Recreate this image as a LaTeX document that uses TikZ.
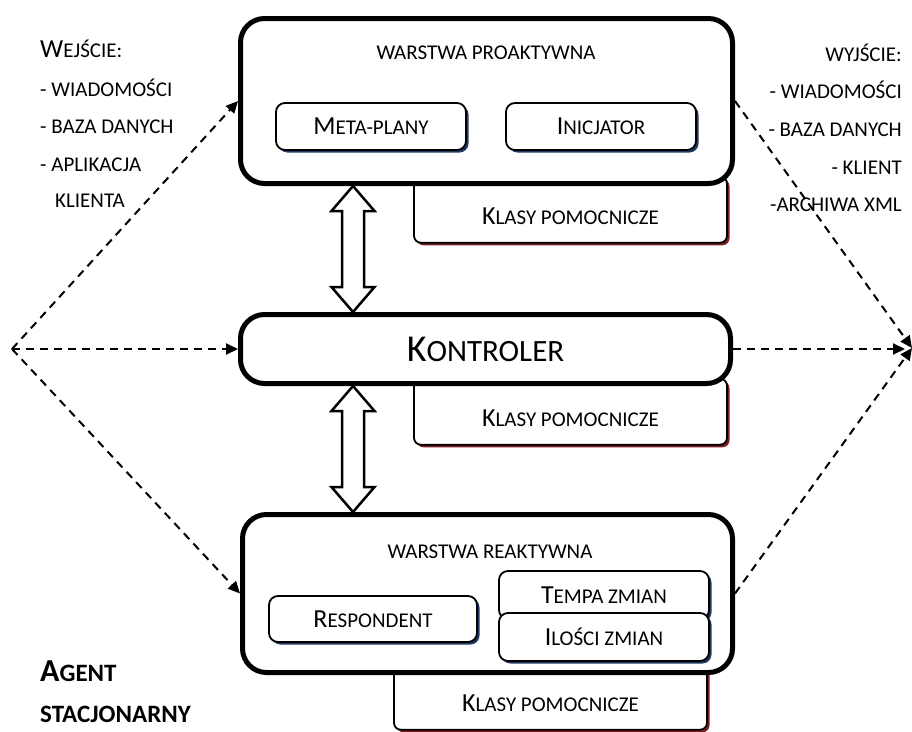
\documentclass[tikz,border=0pt]{standalone}
\usepackage{fontspec}
\setmainfont{Carlito}
\usetikzlibrary{arrows.meta,shadows,calc}
\definecolor{cienmod}{HTML}{1F3864}
\definecolor{cienkl}{HTML}{7B1E22}
\newcommand\duza[1]{{\fontsize{26}{30}\selectfont #1}}
\newcommand\dwustrzalka[2]{%
  \draw[strzalka] (#1) -- ++(21.5,25) -- ++(-10.5,0) -- ($(#2)+(11,-25)$) -- ++(10.5,0)
    -- (#2) -- ++(-21.5,-25) -- ++(10.5,0) -- ($(#1)+(-11,25)$) -- ++(-10.5,0) -- cycle;}

\begin{document}
\begin{tikzpicture}[x=1pt,y=-1pt,font=\fontsize{21}{25}\selectfont,
  warstwa/.style={draw,line width=5pt,rounded corners=24pt,fill=white,inner sep=0pt},
  modul/.style={draw,line width=1.8pt,rounded corners=9pt,fill=white,inner sep=0pt,
    drop shadow={shadow xshift=2.5pt,shadow yshift=-2.5pt,fill=cienmod,opacity=1}},
  klasy/.style={draw,line width=1.8pt,rounded corners=7pt,fill=white,inner sep=0pt,
    minimum width=313pt,text height=48pt,text depth=18pt,anchor=base,
    drop shadow={shadow xshift=2.5pt,shadow yshift=-2.5pt,fill=cienkl,opacity=1}},
  strzalka/.style={draw,line width=2.5pt,fill=white,line join=miter},
  przerywana/.style={dash pattern=on 8pt off 6pt,line width=2pt,
    -{Triangle[length=12pt,width=11pt]}},
  tekst/.style={inner sep=0pt,anchor=base west},
  tekstp/.style={inner sep=0pt,anchor=base east}]
\useasboundingbox (0,0) rectangle (912,731);

% klasy pomocnicze (pod warstwami)
\node[klasy] (kl1) at (570.5,224.75) {\duza{K}LASY POMOCNICZE};
\node[klasy] (kl2) at (570.5,426.75) {\duza{K}LASY POMOCNICZE};
\node[klasy] (kl3) at (550.5,711.75) {\duza{K}LASY POMOCNICZE};

% warstwy
\node[warstwa,minimum width=492pt,minimum height=165pt] (pro) at (486.5,101) {};
\node[warstwa,minimum width=490pt,minimum height=69pt] (kon) at (485.5,349)
  {{\fontsize{38}{42}\selectfont K}{\fontsize{31}{36}\selectfont ONTROLER}};
\node[warstwa,minimum width=490pt,minimum height=158pt] (rea) at (487.5,593.5) {};

\node[inner sep=0pt] (tpro) at (486,53) {WARSTWA PROAKTYWNA};
\node[inner sep=0pt] (trea) at (490,552) {WARSTWA REAKTYWNA};

% moduly
\node[modul,minimum width=190pt,minimum height=47pt] (meta) at (371,126.5) {\duza{M}ETA-PLANY};
\node[modul,minimum width=190pt,minimum height=47pt] (inic) at (601,126.5) {\duza{I}NICJATOR};
\node[modul,minimum width=208pt,minimum height=46pt] (resp) at (373,619) {\duza{R}ESPONDENT};
\node[modul,minimum width=210pt,minimum height=48pt] (tempo) at (604,595) {\duza{T}EMPA ZMIAN};
\node[modul,minimum width=210pt,minimum height=48pt] (ilosc) at (604,637) {\duza{I}LOŚCI ZMIAN};

% wejscie i wyjscie
\node[tekst] (we0) at (40,57) {\duza{W}EJŚCIE:};
\node[tekst] (we1) at (40,96) {- WIADOMOŚCI};
\node[tekst] (we2) at (40,133) {- BAZA DANYCH};
\node[tekst] (we3) at (40,171) {- APLIKACJA};
\node[tekst] (we4) at (55,207) {KLIENTA};

\node[tekstp] (wy0) at (902,61) {WYJŚCIE:};
\node[tekstp] (wy1) at (902,98) {- WIADOMOŚCI};
\node[tekstp] (wy2) at (902,136) {- BAZA DANYCH};
\node[tekstp] (wy3) at (902,174) {- KLIENT};
\node[tekstp] (wy4) at (902,211) {-ARCHIWA XML};

\node[tekst,font=\bfseries\fontsize{25}{28}\selectfont] (ag1) at (40,681)
  {{\fontsize{32}{34}\selectfont A}GENT};
\node[tekst,font=\bfseries\fontsize{25}{28}\selectfont] (ag2) at (40,722) {STACJONARNY};

% przeplyw
\coordinate (lv) at (12,349);
\coordinate (rv) at (912,348);
\coordinate (kv) at (905,349);
\coordinate (ax) at (353,0);

\path[przerywana]
(lv) edge (pro.west)
(lv) edge (kon.west)
(lv) edge (rea.west)
(pro.east) edge (rv)
(kon.east) edge (kv)
(rea.east) edge (rv);

\dwustrzalka{pro.south -| ax}{kon.north -| ax}
\dwustrzalka{kon.south -| ax}{rea.north -| ax}
\end{tikzpicture}
\end{document}
